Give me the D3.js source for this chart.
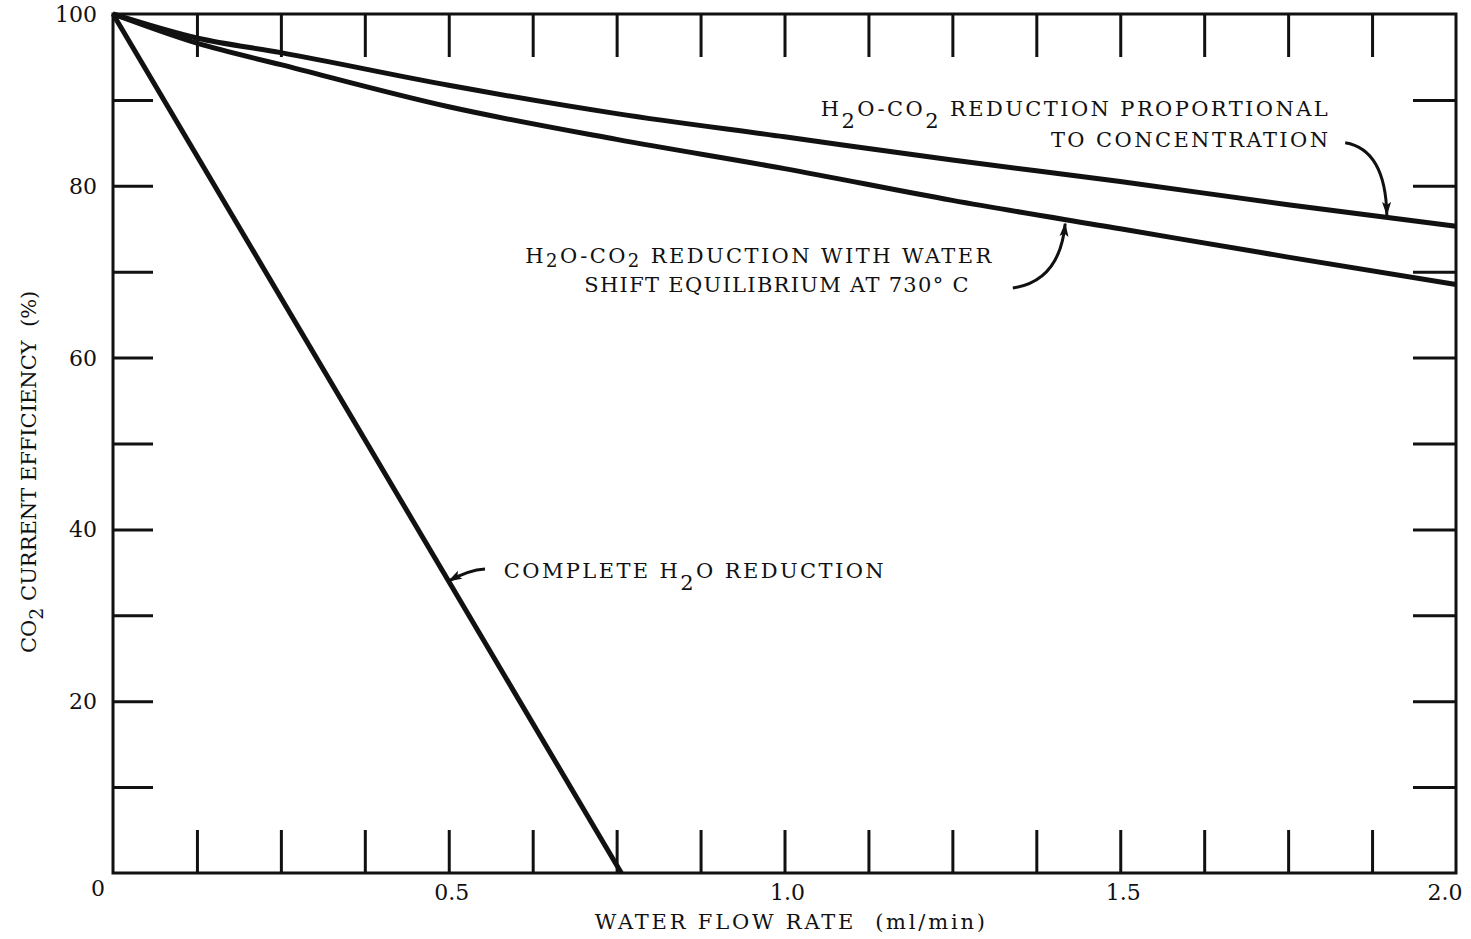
<!DOCTYPE html>
<html>
<head>
<meta charset="utf-8">
<script src="https://cdn.jsdelivr.net/npm/d3@7"></script>
<style>
  body { margin: 0; background: #fff; }
  text { font-family: "DejaVu Serif", "Liberation Serif", serif; fill: #111; }
</style>
</head>
<body>
<div id="chart"></div>
<script>
// values
const flowRate     = [0, 0.125, 0.25, 0.5, 0.75, 1.0, 1.25, 1.5, 1.75, 2.0];
const proportional = [100, 97.2, 95.5, 91.7, 88.4, 85.7, 83.0, 80.5, 77.8, 75.3];
const waterShift   = [100, 96.6, 94.1, 89.2, 85.4, 82.0, 78.3, 75.0, 71.7, 68.5];
const completeFlow = [0, 0.757];
const completeEff  = [100, 0];

const xTicks = [0.125, 0.25, 0.375, 0.5, 0.625, 0.75, 0.875, 1.0, 1.125, 1.25, 1.375, 1.5, 1.625, 1.75, 1.875];
const yTicks = [10, 20, 30, 40, 50, 60, 70, 80, 90];
const xLabels = ["0.5", "1.0", "1.5", "2.0"];
const yLabels = ["20", "40", "60", "80", "100"];

const margins = { top: 14, right: 15, bottom: 66, left: 113 },
      W = 1471, H = 939,
      w = W - margins.left - margins.right,
      h = H - margins.top - margins.bottom;

const svg = d3.select("#chart")
  .append("svg")
  .attr("width", W)
  .attr("height", H);

const defs = svg.append("defs");
defs.append("marker")
  .attr("id", "head")
  .attr("viewBox", "0 -5 14 10")
  .attr("refX", 13)
  .attr("refY", 0)
  .attr("markerWidth", 14)
  .attr("markerHeight", 10)
  .attr("markerUnits", "userSpaceOnUse")
  .attr("orient", "auto")
  .append("path")
  .attr("d", "M0,-4.5L14,0L0,4.5L3,0Z")
  .attr("fill", "#111");

const chart = svg.append("g")
  .attr("transform", `translate(${margins.left},${margins.top})`);

const x = d3.scaleLinear().domain([0, 2]).range([0, w]);
const y = d3.scaleLinear().domain([0, 100]).range([h, 0]);

// inward ticks on all four sides
const tickStyle = g => {
  g.select(".domain").remove();
  g.selectAll("line").attr("stroke", "#111").attr("stroke-width", 3);
};
chart.append("g").attr("transform", `translate(0,${h})`)
  .call(d3.axisBottom(x).tickValues(xTicks).tickSize(-43).tickFormat(""))
  .call(tickStyle);
chart.append("g")
  .call(d3.axisTop(x).tickValues(xTicks).tickSize(-43).tickFormat(""))
  .call(tickStyle);
chart.append("g")
  .call(d3.axisLeft(y).tickValues(yTicks).tickSize(-40).tickFormat(""))
  .call(tickStyle);
chart.append("g").attr("transform", `translate(${w},0)`)
  .call(d3.axisRight(y).tickValues(yTicks).tickSize(-43).tickFormat(""))
  .call(tickStyle);

// frame
chart.append("rect")
  .attr("x", 0).attr("y", 0)
  .attr("width", w).attr("height", h)
  .attr("fill", "none")
  .attr("stroke", "#111")
  .attr("stroke-width", 3);

// tick labels
chart.selectAll(".xl")
  .data(xLabels)
  .enter()
  .append("text")
  .attr("x", d => x(+d))
  .attr("dx", (d, i) => i === xLabels.length - 1 ? -11 : 3)
  .attr("y", h + 27)
  .attr("text-anchor", "middle")
  .attr("font-size", 22)
  .text(d => d);

chart.selectAll(".yl")
  .data(yLabels)
  .enter()
  .append("text")
  .attr("x", -16)
  .attr("y", d => y(+d) + 8)
  .attr("text-anchor", "end")
  .attr("font-size", 22)
  .text(d => d);

chart.append("text")
  .attr("x", -15)
  .attr("y", h + 23)
  .attr("text-anchor", "middle")
  .attr("font-size", 22)
  .text("0");

// axis titles
chart.append("text")
  .attr("x", x(1.01))
  .attr("y", h + 56)
  .attr("text-anchor", "middle")
  .attr("font-size", 21)
  .attr("letter-spacing", 2.8)
  .attr("xml:space", "preserve")
  .text("WATER FLOW RATE  (ml/min)");

const yTitle = chart.append("text")
  .attr("transform", "rotate(-90)")
  .attr("x", -(y(46.7)))
  .attr("y", -77)
  .attr("text-anchor", "middle")
  .attr("font-size", 21)
  .attr("xml:space", "preserve");
yTitle.append("tspan").text("CO");
yTitle.append("tspan").attr("dy", 7).attr("font-size", 19).text("2");
yTitle.append("tspan").attr("dy", -7).text(" CURRENT EFFICIENCY  (%)");

// curves
const line = d3.line()
  .x(d => x(d[0]))
  .y(d => y(d[1]))
  .curve(d3.curveMonotoneX);

const series = [
  d3.zip(flowRate, proportional),
  d3.zip(flowRate, waterShift),
  d3.zip(completeFlow, completeEff)
];

chart.selectAll(".curve")
  .data(series)
  .enter()
  .append("path")
  .attr("class", "curve")
  .attr("fill", "none")
  .attr("stroke", "#111")
  .attr("stroke-width", 5)
  .attr("stroke-linejoin", "round")
  .attr("d", line);

// annotations: parts alternate normal text and lowered "2"
const addSubLabel = (parts, xPos, yPos, anchor, subSize, subDy, spacing = 2.4) => {
  const t = chart.append("text")
    .attr("x", xPos)
    .attr("y", yPos)
    .attr("text-anchor", anchor)
    .attr("font-size", 21)
    .attr("letter-spacing", spacing)
    .attr("xml:space", "preserve");
  let shifted = false;
  parts.forEach(p => {
    const s = t.append("tspan");
    if (p.sub) {
      s.attr("dy", subDy).attr("font-size", subSize).text(p.sub);
      shifted = true;
    } else {
      if (shifted) s.attr("dy", -subDy);
      shifted = false;
      s.text(p.txt);
    }
  });
  return t;
};

addSubLabel([{txt: "H"}, {sub: "2"}, {txt: "O-CO"}, {sub: "2"}, {txt: " REDUCTION PROPORTIONAL"}],
  x(1.054), y(88.1), "start", 21, 12);
addSubLabel([{txt: "TO CONCENTRATION"}], x(1.813), y(84.5), "end", 21, 0);

addSubLabel([{txt: "H"}, {sub: "2"}, {txt: "O-CO"}, {sub: "2"}, {txt: " REDUCTION WITH WATER"}],
  x(0.614), y(71.0), "start", 18, 4);
addSubLabel([{txt: "SHIFT EQUILIBRIUM AT 730° C"}], x(1.276), y(67.6), "end", 21, 0, 1.3);

addSubLabel([{txt: "COMPLETE H"}, {sub: "2"}, {txt: "O REDUCTION"}],
  x(0.582), y(34.4), "start", 21, 12);

// arrows, anchored in data units
const arrows = [
  [[1.835, 85.0], [1.895, 84.2], [1.897, 76.6]],
  [[1.340, 68.1], [1.410, 68.9], [1.418, 75.6]],
  [[0.554, 35.4], [0.530, 35.3], [0.500, 34.0]]
];
chart.selectAll(".arrow")
  .data(arrows)
  .enter()
  .append("path")
  .attr("fill", "none")
  .attr("stroke", "#111")
  .attr("stroke-width", 3)
  .attr("marker-end", "url(#head)")
  .attr("d", d => `M${x(d[0][0])},${y(d[0][1])}Q${x(d[1][0])},${y(d[1][1])} ${x(d[2][0])},${y(d[2][1])}`);
</script>
</body>
</html>
